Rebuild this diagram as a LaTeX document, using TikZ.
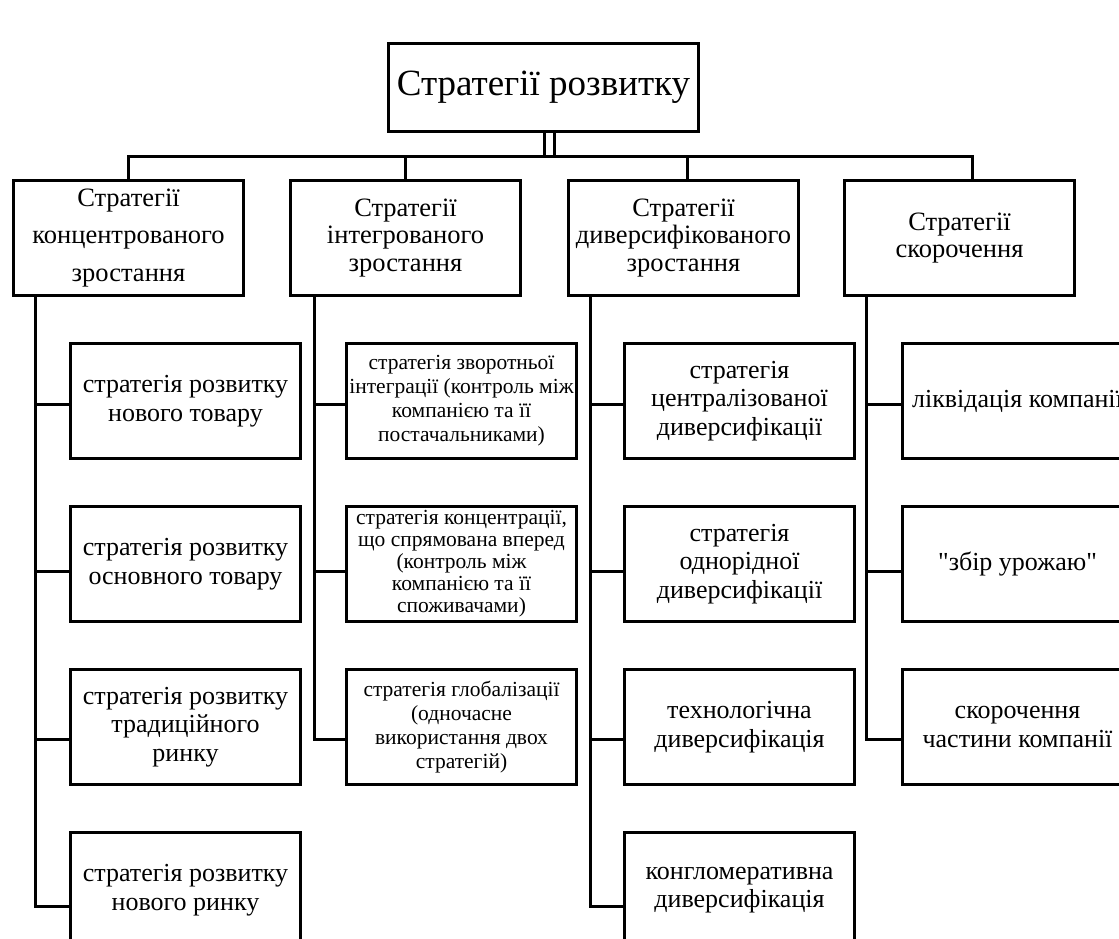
\documentclass[tikz,border=0pt]{standalone}
\usepackage{fontspec}
\setmainfont{Liberation Serif}[Ligatures=TeXOff]
\newcommand{\bw}{230pt}
\newcommand{\bh}{115pt}

\begin{document}
\begin{tikzpicture}[x=1pt, y=-1pt, line width=3pt,
    rect/.style={draw, rectangle, anchor=north west, minimum width=\bw, minimum height=\bh, inner sep=0pt, align=center, font=\fontsize{26}{28.5}\selectfont},
    head/.style={font=\fontsize{26.5}{27.5}\selectfont},
    small/.style={font=\fontsize{21.5}{24}\selectfont}]
    \clip (0,0) rectangle (1119,938);

    % Top
    \node[rect, minimum width=310pt, minimum height=88pt, font=\fontsize{37}{42}\selectfont] (top) at (387,42) {Стратегії розвитку};

    % First level
    \node[rect, font=\fontsize{26.5}{37.5}\selectfont] (col-1) at (12,179) {Стратегії\\концентрованого\\зростання};
    \node[rect, head] (col-2) at (289,179) {Стратегії\\інтегрованого\\зростання};
    \node[rect, head] (col-3) at (567,179) {Стратегії\\диверсифікованого\\зростання};
    \node[rect, head] (col-4) at (843,179) {Стратегії\\скорочення};

    % First column
    \node[rect] (box-1-1) at (69,342) {стратегія розвитку\\нового товару};
    \node[rect] (box-1-2) at (69,505) {стратегія розвитку\\основного товару};
    \node[rect] (box-1-3) at (69,668) {стратегія розвитку\\традиційного\\ринку};
    \node[rect] (box-1-4) at (69,831) {стратегія розвитку\\нового ринку};

    % Second column
    \node[rect, small] (box-2-1) at (345,342) {стратегія зворотньої\\інтеграції (контроль між\\компанією та її\\постачальниками)};
    \node[rect, small, font=\fontsize{21.5}{22}\selectfont] (box-2-2) at (345,505) {стратегія концентрації,\\що спрямована вперед\\(контроль між\\компанією та її\\споживачами)};
    \node[rect, small] (box-2-3) at (345,668) {стратегія глобалізації\\(одночасне\\використання двох\\стратегій)};

    % Third column
    \node[rect] (box-3-1) at (623,342) {стратегія\\централізованої\\диверсифікації};
    \node[rect] (box-3-2) at (623,505) {стратегія\\однорідної\\диверсифікації};
    \node[rect] (box-3-3) at (623,668) {технологічна\\диверсифікація};
    \node[rect] (box-3-4) at (623,831) {конгломеративна\\диверсифікація};

    % Fourth column
    \node[rect] (box-4-1) at (901,342) {ліквідація компанії};
    \node[rect] (box-4-2) at (901,505) {"збір урожаю"};
    \node[rect] (box-4-3) at (901,668) {скорочення\\частини компанії};

    % Connectors
    \coordinate (bus) at (0,156);
    \draw[double, double distance=7pt, line width=3pt] ([xshift=6pt]top.south) -- ([xshift=6pt]top.south |- bus);
    \draw (col-1.north) -- (col-1.north |- bus) -| ([xshift=13pt]col-4.north);
    \draw (col-2.north) -- (col-2.north |- bus);
    \draw ([xshift=4pt]col-3.north) -- ([xshift=4pt]col-3.north |- bus);

    \coordinate (t-1) at ([xshift=23pt]col-1.south west);
    \coordinate (t-2) at ([xshift=25pt]col-2.south west);
    \coordinate (t-3) at ([xshift=23pt]col-3.south west);
    \coordinate (t-4) at ([xshift=23pt]col-4.south west);
    \foreach \c/\r/\dy in {1/1/3, 1/2/7, 1/3/12, 1/4/16, 2/1/3, 2/2/7, 2/3/12,
                           3/1/3, 3/2/7, 3/3/12, 3/4/16, 4/1/3, 4/2/7, 4/3/12}
        \draw (t-\c) |- ([yshift=-\dy pt]box-\c-\r.west);

\end{tikzpicture}
\end{document}
